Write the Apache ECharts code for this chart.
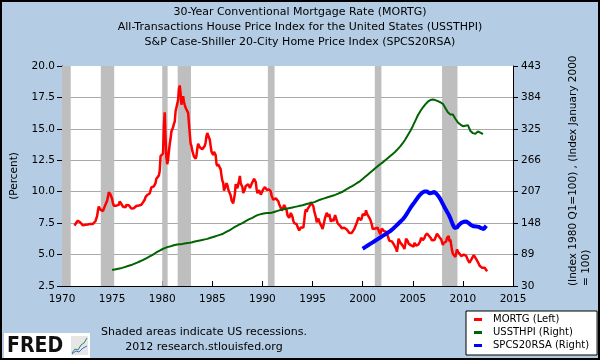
<!DOCTYPE html>
<html>
<head>
<meta charset="utf-8">
<script src="https://cdn.jsdelivr.net/npm/echarts@6/dist/echarts.min.js"></script>
<style>
html,body{margin:0;padding:0;background:#b4cde4;}
#chart{width:600px;height:360px;}
</style>
</head>
<body>
<div id="chart"></div>
<script>
// ---- Data ----
const titleLines = [
  '30-Year Conventional Mortgage Rate (MORTG)',
  'All-Transactions House Price Index for the United States (USSTHPI)',
  'S&P Case-Shiller 20-City Home Price Index (SPCS20RSA)'
];
const seriesNames = ['MORTG (Left)', 'USSTHPI (Right)', 'SPCS20RSA (Right)'];

const xTicks = { min: 1970, max: 2015, step: 5 };
const leftTicks = { min: 2.5, max: 20, step: 2.5 };
const rightTicks = { min: 30, max: 443, step: 59 };

// Monthly, starting April 1971
const mortgStartYear = 1971, mortgStartMonth = 3;
const mortg = [
  7.31, 7.43, 7.53, 7.60, 7.70, 7.69, 7.63, 7.55, 7.48,
  7.44, 7.32, 7.29, 7.29, 7.37, 7.37, 7.40, 7.40, 7.42, 7.43, 7.44, 7.44,
  7.44, 7.44, 7.46, 7.54, 7.65, 7.73, 8.05, 8.50, 8.82, 8.77, 8.58, 8.54,
  8.54, 8.46, 8.41, 8.58, 8.97, 9.09, 9.28, 9.59, 9.96, 9.98, 9.79, 9.62,
  9.43, 9.10, 8.89, 8.82, 8.91, 8.89, 8.82, 8.84, 8.95, 9.22, 9.07, 9.04,
  9.02, 8.81, 8.76, 8.73, 8.77, 8.94, 8.96, 8.96, 8.92, 8.82, 8.79, 8.66,
  8.72, 8.67, 8.69, 8.75, 8.83, 8.86, 8.94, 8.94, 8.90, 8.92, 8.92, 8.96,
  9.02, 9.15, 9.20, 9.36, 9.57, 9.71, 9.74, 9.78, 9.76, 9.86, 10.11, 10.35,
  10.39, 10.41, 10.43, 10.50, 10.69, 11.04, 11.09, 11.09, 11.30, 11.64, 12.83, 12.90,
  12.88, 13.04, 15.28, 16.32, 14.26, 12.71, 12.19, 12.56, 13.20, 13.79, 14.21, 14.79,
  14.90, 15.13, 15.40, 15.58, 16.40, 16.70, 16.83, 17.29, 18.16, 18.45, 17.83, 16.92,
  17.40, 17.60, 17.16, 16.89, 16.68, 16.70, 16.82, 16.27, 15.43, 14.61, 13.83, 13.62,
  13.25, 13.04, 12.80, 12.78, 12.63, 12.87, 13.42, 13.81, 13.73, 13.54, 13.44, 13.42,
  13.37, 13.23, 13.39, 13.65, 13.94, 14.42, 14.67, 14.47, 14.35, 14.13, 13.64, 13.18,
  13.08, 12.92, 13.17, 13.20, 12.91, 12.22, 12.03, 12.19, 12.19, 12.14, 11.78, 11.26,
  10.88, 10.71, 10.08, 9.94, 10.14, 10.68, 10.51, 10.20, 10.01, 9.97, 9.70, 9.31,
  9.20, 9.08, 9.04, 9.83, 10.60, 10.54, 10.28, 10.33, 10.89, 11.26, 10.65, 10.64,
  10.38, 9.89, 9.93, 10.20, 10.46, 10.46, 10.43, 10.60, 10.48, 10.30, 10.27, 10.61,
  10.73, 10.65, 11.03, 11.05, 10.77, 10.20, 9.88, 9.99, 10.13, 9.95, 9.77, 9.74,
  9.90, 10.20, 10.27, 10.37, 10.48, 10.16, 10.04, 10.10, 10.18, 10.18, 10.01, 9.67,
  9.64, 9.37, 9.50, 9.49, 9.47, 9.62, 9.58, 9.24, 9.01, 8.86, 8.71, 8.50,
  8.43, 8.76, 8.94, 8.85, 8.67, 8.51, 8.13, 7.98, 7.92, 8.09, 8.31, 8.22,
  7.99, 7.68, 7.50, 7.47, 7.47, 7.42, 7.21, 7.11, 6.92, 6.83, 7.16, 7.17,
  7.06, 7.15, 7.68, 8.32, 8.60, 8.40, 8.61, 8.51, 8.64, 8.93, 9.17, 9.20,
  9.15, 8.83, 8.46, 8.32, 7.96, 7.57, 7.61, 7.86, 7.64, 7.48, 7.38, 7.20,
  7.03, 7.08, 7.62, 7.93, 8.07, 8.32, 8.25, 8.00, 8.23, 7.92, 7.62, 7.60,
  7.82, 7.65, 7.90, 8.14, 7.94, 7.69, 7.50, 7.48, 7.43, 7.29, 7.21, 7.10,
  6.99, 7.04, 7.13, 7.14, 7.14, 7.00, 6.95, 6.92, 6.72, 6.71, 6.87, 6.72,
  6.79, 6.81, 7.04, 6.92, 7.15, 7.55, 7.63, 7.94, 7.82, 7.85, 7.74, 7.91,
  8.21, 8.33, 8.24, 8.15, 8.52, 8.29, 8.15, 8.03, 7.91, 7.80, 7.75, 7.38,
  7.03, 7.05, 6.95, 7.08, 7.15, 7.16, 7.13, 6.95, 6.82, 6.62, 6.66, 7.07,
  7.00, 6.89, 7.01, 6.99, 6.81, 6.65, 6.49, 6.29, 6.09, 6.11, 6.07, 6.05,
  5.92, 5.84, 5.75, 5.81, 5.48, 5.23, 5.63, 6.26, 6.15, 5.95, 5.93, 5.88,
  5.71, 5.64, 5.45, 5.83, 6.27, 6.29, 6.06, 5.87, 5.75, 5.72, 5.73, 5.75,
  5.71, 5.63, 5.93, 5.86, 5.72, 5.58, 5.70, 5.82, 5.77, 6.07, 6.33, 6.27,
  6.15, 6.25, 6.32, 6.51, 6.60, 6.68, 6.76, 6.52, 6.40, 6.36, 6.24, 6.14,
  6.22, 6.29, 6.16, 6.18, 6.26, 6.66, 6.70, 6.57, 6.38, 6.38, 6.21, 6.10,
  5.76, 5.92, 5.97, 5.92, 6.04, 6.32, 6.43, 6.48, 6.04, 6.20, 6.09, 5.33,
  5.06, 5.13, 5.00, 4.81, 4.86, 5.42, 5.22, 5.19, 5.06, 4.95, 4.88, 4.93,
  5.03, 4.99, 4.97, 5.10, 4.89, 4.74, 4.56, 4.43, 4.35, 4.23, 4.30, 4.71,
  4.76, 4.95, 4.84, 4.84, 4.64, 4.51, 4.55, 4.27, 4.11, 4.07, 3.99, 3.96,
  3.92, 3.89, 3.95, 3.91, 3.80, 3.68
];

// Quarterly, starting 1975 Q1
const hpiStartYear = 1975;
const ussthpi = [
  60, 61, 62, 63,
  64, 65.5, 67, 68.5,
  70, 72, 74, 76,
  78, 80.5, 83, 85.5,
  88, 91, 94, 96.5,
  99, 101, 103, 104,
  105.5, 107, 108, 108.5,
  109, 110, 110.5, 111,
  112, 113.5, 114.5, 115.5,
  116.5, 117.5, 118.5, 120,
  121.5, 123, 124.5, 126,
  127.5, 130, 132.5, 135,
  138, 141, 143.5, 146,
  148, 151, 153.5, 156,
  158, 160.5, 163, 164.5,
  165.5, 166.5, 167, 167,
  168, 169.5, 171, 172.5,
  173.5, 174.5, 175.5, 176.5,
  177.5, 178.5, 179.5, 180.5,
  181.5, 183, 184.5, 185.5,
  186.5, 188, 190, 192,
  193.5, 195, 196.5, 198,
  199.5, 201, 203, 205,
  207, 210, 213, 215.5,
  218, 221, 224, 227,
  231, 235, 239, 243,
  247, 251, 255, 258.5,
  262, 266, 270, 274,
  278, 282, 287, 292,
  298, 305, 313, 321,
  330, 340, 350, 358,
  365, 371, 376, 379,
  380, 379, 377, 375,
  372, 364, 356, 352,
  352, 344, 337, 333,
  330, 331, 332, 321,
  317, 316, 320, 318,
  315
];

// Monthly, starting January 2000
const csStartYear = 2000;
const spcs20rsa = [
  100, 101, 102, 103, 104, 105, 106, 107, 108, 109, 110, 111,
  112, 113, 114, 115, 116, 117, 118, 119, 120, 121, 122, 123,
  124, 125, 126, 127, 128, 129, 130, 131, 132, 133, 134, 135.5,
  137, 138.5, 140, 141.5, 143, 144.5, 146, 147.5, 149, 150.5, 152, 153.5,
  155, 157, 159, 161, 163.5, 166, 168.5, 171, 173.5, 176, 178.5, 181,
  183, 185, 187, 189, 191.5, 194, 196, 198, 200, 202, 203.5, 205,
  206, 207, 207.5, 208, 208, 207.5, 206.5, 205, 204, 203.5, 204, 205,
  206, 207, 206.5, 205, 203.5, 202, 200, 198, 195.5, 193, 190, 187,
  184, 181, 178, 175, 172, 169.5, 167, 164, 160.5, 157, 153, 149,
  145, 141.5, 139, 138, 138.5, 140, 142, 144, 145.5, 147, 148.5, 149.5,
  150, 150.5, 150.5, 151, 151, 150.5, 149.5, 148, 146.5, 145, 144, 143,
  142.5, 142, 142, 141.5, 141.5, 141.5, 141, 141, 140, 139, 138.5, 138,
  137.5, 137, 138, 140, 143
];

// US recessions (decimal years)
const recessionStart = [1970.0, 1973.87, 1980.0, 1981.54, 1990.54, 2001.21, 2007.92];
const recessionEnd   = [1970.87, 1975.21, 1980.54, 1982.87, 1991.21, 2001.87, 2009.46];

// ---- Build chart ----
const FONT = '"DejaVu Sans", Verdana, sans-serif';
const monthly = (arr, y0, m0) => arr.map((v, i) => [y0 + (m0 + i) / 12, v]);
const quarterly = (arr, y0) => arr.map((v, i) => [y0 + i / 4, v]);

const chart = echarts.init(document.getElementById('chart'), null, { renderer: 'canvas' });

const option = {
  animation: false,
  backgroundColor: '#b4cde4',
  textStyle: { fontFamily: FONT },
  title: {
    text: titleLines.join('\n'),
    left: 300,
    top: 5,
    padding: 0,
    textAlign: 'center',
    textStyle: { fontFamily: FONT, fontSize: 11, fontWeight: 'normal', color: '#000', lineHeight: 15 }
  },
  grid: { left: 62, right: 87, top: 66, bottom: 74, show: true, backgroundColor: '#ffffff', borderWidth: 0, outerBoundsMode: 'none', containLabel: false },
  legend: {
    data: seriesNames,
    orient: 'vertical',
    left: 466,
    top: 311,
    padding: [2, 8, 3, 8],
    itemGap: 0,
    itemWidth: 8,
    itemHeight: 3,
    icon: 'rect',
    backgroundColor: '#ffffff',
    borderColor: '#000000',
    borderWidth: 1,
    borderRadius: 0,
    selectedMode: false,
    textStyle: { fontFamily: FONT, fontSize: 10, color: '#000', lineHeight: 13, padding: [0, 0, 0, 6] }
  },
  xAxis: {
    type: 'value',
    min: xTicks.min, max: xTicks.max, interval: xTicks.step,
    axisLine: { show: true, onZero: false, lineStyle: { color: '#000', width: 1 } },
    axisTick: { show: true, inside: true, length: 5, lineStyle: { color: '#000' } },
    axisLabel: { color: '#000', fontSize: 10.5, fontFamily: FONT, margin: 8, formatter: v => String(v) },
    splitLine: { show: false }
  },
  yAxis: [
    {
      type: 'value', position: 'left',
      min: leftTicks.min, max: leftTicks.max, interval: leftTicks.step,
      axisLine: { show: true, onZero: false, lineStyle: { color: '#000', width: 1 } },
      axisTick: { show: true, length: 5, lineStyle: { color: '#000' } },
      axisLabel: { color: '#000', fontSize: 10.5, fontFamily: FONT, margin: 7, formatter: v => v.toFixed(1) },
      splitLine: { show: true, showMaxLine: false, lineStyle: { color: '#a9a9a9', width: 1 } },
      name: '(Percent)', nameLocation: 'middle', nameRotate: 90, nameGap: 42,
      nameTextStyle: { color: '#000', fontSize: 10.5, fontFamily: FONT }
    },
    {
      type: 'value', position: 'right',
      min: rightTicks.min, max: rightTicks.max, interval: rightTicks.step,
      axisLine: { show: true, onZero: false, lineStyle: { color: '#000', width: 1 } },
      axisTick: { show: true, length: 5, lineStyle: { color: '#000' } },
      axisLabel: { color: '#000', fontSize: 10.5, fontFamily: FONT, margin: 8 },
      splitLine: { show: false }
    }
  ],
  series: [
    {
      name: 'recessions', type: 'line', yAxisIndex: 0, data: [], z: 1, silent: true,
      markArea: {
        silent: true,
        itemStyle: { color: '#bebebe', opacity: 1 },
        data: recessionStart.map((s, i) => [{ xAxis: s }, { xAxis: recessionEnd[i] }])
      }
    },
    {
      name: seriesNames[0], type: 'line', yAxisIndex: 0, z: 3,
      data: monthly(mortg, mortgStartYear, mortgStartMonth),
      symbol: 'none', showSymbol: false,
      lineStyle: { color: '#ff0000', width: 2.5 }, itemStyle: { color: '#ff0000' }
    },
    {
      name: seriesNames[1], type: 'line', yAxisIndex: 1, z: 3,
      data: quarterly(ussthpi, hpiStartYear),
      symbol: 'none', showSymbol: false,
      lineStyle: { color: '#006400', width: 2 }, itemStyle: { color: '#006400' }
    },
    {
      name: seriesNames[2], type: 'line', yAxisIndex: 1, z: 3,
      data: monthly(spcs20rsa, csStartYear, 0),
      symbol: 'none', showSymbol: false,
      lineStyle: { color: '#0000ff', width: 4 }, itemStyle: { color: '#0000ff' }
    }
  ],
  graphic: [
    {
      type: 'text', x: 567, y: 286, rotation: Math.PI / 2,
      style: {
        text: '(Index 1980 Q1=100) , (Index January 2000\n= 100)',
        font: '10.5px ' + FONT, fill: '#000', align: 'left', verticalAlign: 'top', lineHeight: 13
      }
    },
    {
      type: 'text', x: 204, y: 332,
      style: { text: 'Shaded areas indicate US recessions.', font: '11px ' + FONT, fill: '#000', align: 'center', verticalAlign: 'middle' }
    },
    {
      type: 'text', x: 204, y: 347,
      style: { text: '2012 research.stlouisfed.org', font: '11px ' + FONT, fill: '#000', align: 'center', verticalAlign: 'middle' }
    },
    {
      type: 'group', children: [
        { type: 'rect', shape: { x: 4, y: 333, width: 86, height: 25 }, style: { fill: '#ffffff' } },
        { type: 'text', x: 7, y: 346, scaleX: 0.86,
          style: { text: 'FRED', font: 'bold 22px ' + FONT, fill: '#111', align: 'left', verticalAlign: 'middle' } },
        { type: 'rect', shape: { x: 71, y: 336, width: 17, height: 19 }, style: { fill: '#e6e6e6' } },
        { type: 'polyline', shape: { points: [[72, 353], [75, 349], [78, 350], [81, 345], [84, 343], [87, 338]] },
          style: { stroke: '#2e8b57', lineWidth: 1, fill: null } },
        { type: 'polyline', shape: { points: [[72, 354], [76, 351], [79, 352], [83, 348], [87, 346]] },
          style: { stroke: '#4169e1', lineWidth: 1, fill: null } }
      ]
    },
    {
      type: 'rect', z: 100, silent: true,
      shape: { x: 1, y: 1, width: 598, height: 358 },
      style: { fill: null, stroke: '#000', lineWidth: 2 }
    }
  ]
};

chart.setOption(option);
</script>
</body>
</html>
